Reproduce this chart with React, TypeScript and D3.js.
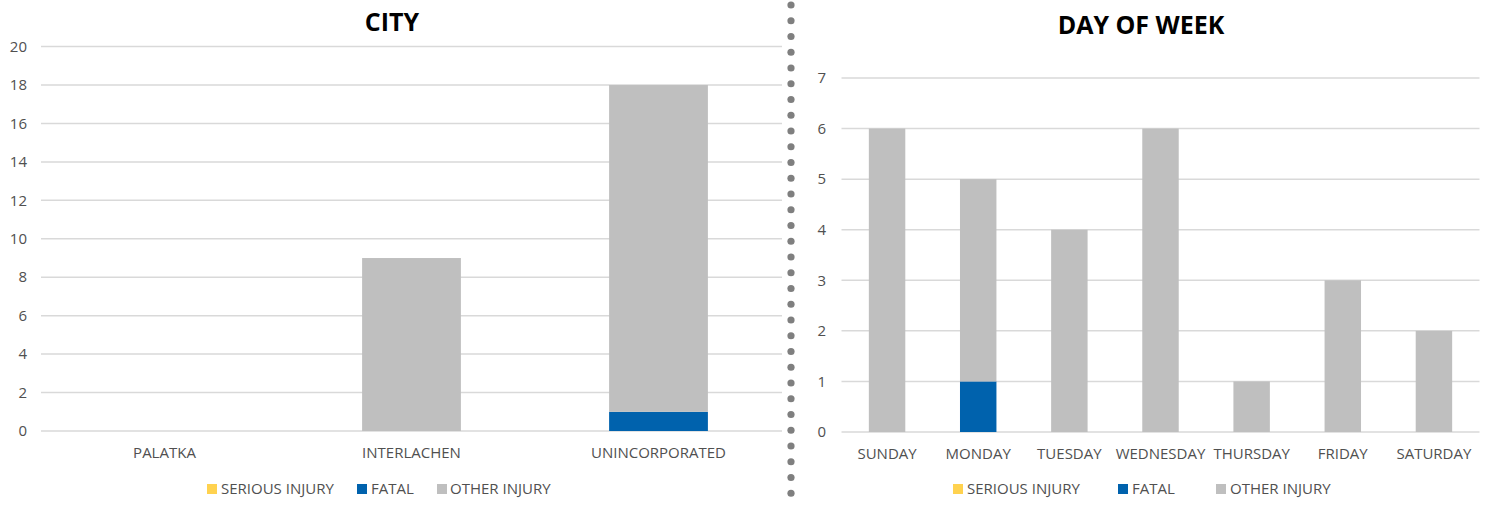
import React from "react";
import * as d3 from "d3";

const seriesNames = ["SERIOUS INJURY", "FATAL", "OTHER INJURY"];
const seriesColors = ["#FFD24F", "#0062AD", "#BFBFBF"];

const cities = ["PALATKA", "INTERLACHEN", "UNINCORPORATED"];
const citySerious = [0, 0, 0];
const cityFatal = [0, 0, 1];
const cityOther = [0, 9, 17];
const cityTicks = [0, 2, 4, 6, 8, 10, 12, 14, 16, 18, 20];

const days = ["SUNDAY", "MONDAY", "TUESDAY", "WEDNESDAY", "THURSDAY", "FRIDAY", "SATURDAY"];
const daySerious = [0, 0, 0, 0, 0, 0, 0];
const dayFatal = [0, 1, 0, 0, 0, 0, 0];
const dayOther = [6, 4, 4, 6, 1, 3, 2];
const dayTicks = [0, 1, 2, 3, 4, 5, 6, 7];

const FONT = "'Open Sans', sans-serif";
const TEXT = "#505050";
const FS = 15;

type PanelProps = {
  title: string;
  titleX: number;
  titleY: number;
  cats: string[];
  series: number[][];
  ticks: number[];
  yMax: number;
  x0: number;
  x1: number;
  y0: number;
  y1: number;
  tickX: number;
  legendItems: { sq: number; tx: number }[];
};

function Panel(p: PanelProps) {
  const x = d3.scaleBand<string>().domain(p.cats).range([p.x0, p.x1]).paddingInner(0.6).paddingOuter(0.3);
  const y = d3.scaleLinear().domain([0, p.yMax]).range([p.y0, p.y1]);
  const rows = p.cats.map((c, i) => {
    const o: any = { cat: c };
    seriesNames.forEach((s, k) => (o[s] = p.series[k][i]));
    return o;
  });
  const stacked = d3.stack<any>().keys(seriesNames)(rows);
  return (
    <g>
      <text x={p.titleX} y={p.titleY} textAnchor="middle" fontFamily={FONT} fontWeight="bold" fontSize={25} fill="#000">
        {p.title}
      </text>
      {p.ticks.map((t) => (
        <g key={t}>
          <line x1={p.x0} x2={p.x1} y1={y(t)} y2={y(t)} stroke="#D9D9D9" strokeWidth={1.5} />
          <text x={p.tickX} y={y(t)} dy="0.35em" textAnchor="end" fontFamily={FONT} fontSize={FS} fill={TEXT}>
            {t}
          </text>
        </g>
      ))}
      {stacked.map((layer, k) =>
        layer.map((d, i) =>
          d[1] - d[0] > 0 ? (
            <rect
              key={k + "-" + i}
              x={x(p.cats[i])}
              width={x.bandwidth()}
              y={y(d[1])}
              height={y(d[0]) - y(d[1])}
              fill={seriesColors[k]}
            />
          ) : null
        )
      )}
      {p.cats.map((c) => (
        <text key={c} x={(x(c) as number) + x.bandwidth() / 2} y={p.y0 + 27} textAnchor="middle" fontFamily={FONT} fontSize={FS} fill={TEXT}>
          {c}
        </text>
      ))}
      {p.legendItems.map((it, k) => (
        <g key={k}>
          <rect x={it.sq} y={484} width={10} height={10} fill={seriesColors[k]} />
          <text x={it.tx} y={489} dy="0.35em" fontFamily={FONT} fontSize={FS} fill={TEXT}>
            {seriesNames[k]}
          </text>
        </g>
      ))}
    </g>
  );
}

export default function App() {
  const dots = d3.range(5, 508, 15.75);
  return (
    <svg width={1495} height={508} style={{ position: "absolute", left: 0, top: 0, background: "#fff" }}>
      <rect width={1495} height={508} fill="#fff" />
      <Panel
        title="CITY"
        titleX={392}
        titleY={31}
        cats={cities}
        series={[citySerious, cityFatal, cityOther]}
        ticks={cityTicks}
        yMax={20}
        x0={41}
        x1={782}
        y0={431}
        y1={46.6}
        tickX={27}
        legendItems={[{ sq: 207, tx: 221 }, { sq: 357, tx: 371 }, { sq: 437, tx: 450 }]}
      />
      <Panel
        title="DAY OF WEEK"
        titleX={1141}
        titleY={34}
        cats={days}
        series={[daySerious, dayFatal, dayOther]}
        ticks={dayTicks}
        yMax={7}
        x0={841.5}
        x1={1479.5}
        y0={432}
        y1={78}
        tickX={826}
        legendItems={[{ sq: 953, tx: 967 }, { sq: 1118, tx: 1132 }, { sq: 1216, tx: 1230 }]}
      />
      {dots.map((d, i) => (
        <circle key={i} cx={791} cy={d} r={3.6} fill="#7F7F7F" />
      ))}
    </svg>
  );
}
